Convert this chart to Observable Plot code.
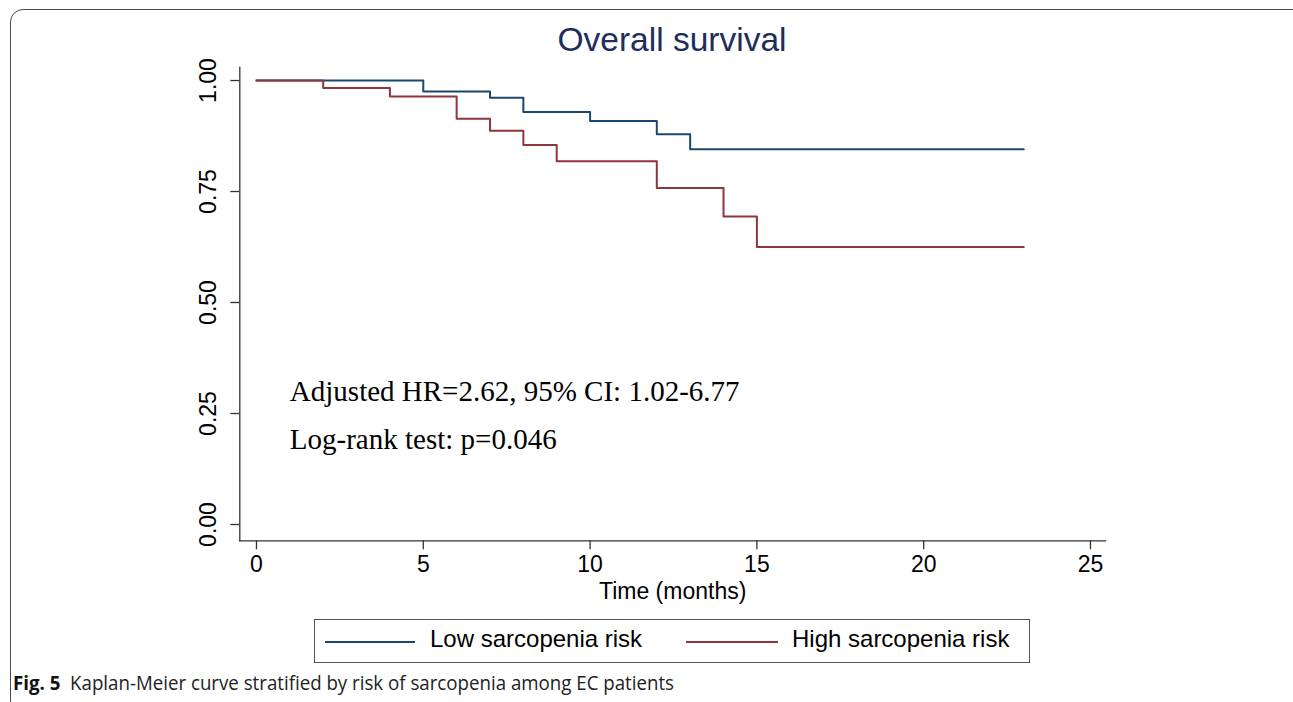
<!DOCTYPE html>
<html>
<head>
<meta charset="utf-8">
<script src="https://cdn.jsdelivr.net/npm/d3@7"></script>
<script src="https://cdn.jsdelivr.net/npm/@observablehq/plot@0.6"></script>
<style>
  html, body { margin: 0; padding: 0; background: #fff; }
  body { width: 1293px; height: 702px; overflow: hidden; position: relative; font-family: "Liberation Sans", Arial, sans-serif; }
  #frame { position: absolute; left: 10px; top: 8.5px; width: 1300px; height: 705px; border: 1.5px solid #4a4a4a; border-radius: 13px; box-sizing: border-box; }
  #title { position: absolute; left: 0; width: 1344px; top: 23px; text-align: center; font-size: 33.5px; line-height: 1; color: #1e2d5c; white-space: nowrap; }
  #chart { position: absolute; left: 0; top: 60px; }
  #legend { position: absolute; left: 314px; top: 619px; width: 716px; height: 44px; border: 1.5px solid #555; box-sizing: border-box; }
  .sw { position: absolute; height: 2px; top: 21px; }
  .lt { position: absolute; top: 7px; font-size: 24px; line-height: 1; white-space: nowrap; color: #000; }
  #caption { position: absolute; left: 13px; top: 673px; font-family: "Open Sans", "Noto Sans", sans-serif; font-size: 20px; line-height: 1; white-space: nowrap; color: #222; transform-origin: 0 0; }
  #caption b { font-weight: 700; color: #111; }
</style>
</head>
<body>
<div id="frame"></div>
<div id="title">Overall survival</div>
<div id="chart"></div>
<div id="legend"></div>
<div id="caption"><b>Fig. 5</b>&nbsp;&nbsp;Kaplan-Meier curve stratified by risk of sarcopenia among EC patients</div>
<script>
// ---- data ----
const groups = ["Low sarcopenia risk", "High sarcopenia risk"];
const groupColors = ["#1a476f", "#90353b"];
const lowTimes = [0, 5, 7, 8, 10, 12, 13, 23];
const lowSurv  = [1.000, 0.975, 0.961, 0.929, 0.909, 0.879, 0.845, 0.845];
const highTimes = [0, 2, 4, 6, 7, 8, 9, 12, 14, 15, 23];
const highSurv  = [1.000, 0.983, 0.964, 0.914, 0.887, 0.855, 0.818, 0.758, 0.694, 0.625, 0.625];
const xTicks = [0, 5, 10, 15, 20, 25];
const yTicks = [0, 0.25, 0.5, 0.75, 1];
const xLabel = "Time (months)";
const annotations = [
  {x: 1, y: 0.30, text: "Adjusted HR=2.62, 95% CI: 1.02-6.77"},
  {x: 1, y: 0.19, text: "Log-rank test: p=0.046"}
];

const rows = [
  ...lowTimes.map((t, i) => ({group: groups[0], t, s: lowSurv[i]})),
  ...highTimes.map((t, i) => ({group: groups[1], t, s: highSurv[i]}))
];

const axisColor = "#333";
const chart = Plot.plot({
  width: 1293,
  height: 555,
  marginLeft: 239.3,
  marginRight: 188,
  marginTop: 6.7,
  marginBottom: 74.7,
  x: {domain: [-0.5, 25.45]},
  y: {domain: [-0.0367, 1.030]},
  color: {domain: groups, range: groupColors},
  style: {fontFamily: "'Liberation Sans', Arial, sans-serif", fontSize: "23px", color: "#000", background: "transparent", overflow: "visible"},
  marks: [
    Plot.frame({anchor: "left", stroke: axisColor, strokeWidth: 1.3}),
    Plot.frame({anchor: "bottom", stroke: axisColor, strokeWidth: 1.3}),
    Plot.axisX({ticks: xTicks, tickSize: 9, tickPadding: 6, label: null, fontSize: 23, stroke: axisColor, strokeWidth: 1.3, fill: "#000"}),
    Plot.axisY({ticks: yTicks, tickSize: 9, tickFormat: () => "", label: null, stroke: axisColor, strokeWidth: 1.3}),
    Plot.text(yTicks, {y: d => d, frameAnchor: "left", dx: -31, rotate: -90, text: d => d.toFixed(2), textAnchor: "middle", lineAnchor: "middle", fontSize: 23, fill: "#000"}),
    Plot.text([xLabel], {frameAnchor: "bottom", dy: 57.7, lineAnchor: "bottom", text: d => d, fontSize: 23, fill: "#000"}),
    Plot.line(rows, {x: "t", y: "s", z: "group", stroke: "group", curve: "step-after", strokeWidth: 2}),
    Plot.text(annotations, {x: "x", y: "y", text: "text", textAnchor: "start", lineAnchor: "middle", fontFamily: "'Liberation Serif', 'Times New Roman', serif", fontSize: 29, fill: "#000"})
  ]
});
document.getElementById("chart").appendChild(chart);

// legend built from the same groups / colors
const legend = document.getElementById("legend");
const legendLayout = [{swLeft: 10, swWidth: 90, textLeft: 115}, {swLeft: 371, swWidth: 92, textLeft: 477}];
groups.forEach((g, i) => {
  const sw = document.createElement("div");
  sw.className = "sw";
  sw.style.left = legendLayout[i].swLeft + "px";
  sw.style.width = legendLayout[i].swWidth + "px";
  sw.style.background = groupColors[i];
  legend.appendChild(sw);
  const lt = document.createElement("div");
  lt.className = "lt";
  lt.style.left = legendLayout[i].textLeft + "px";
  lt.textContent = g;
  legend.appendChild(lt);
});

// fit the caption to the reference width
const cap = document.getElementById("caption");
const w = cap.getBoundingClientRect().width;
cap.style.transform = `scaleX(${661 / w})`;
</script>
</body>
</html>
